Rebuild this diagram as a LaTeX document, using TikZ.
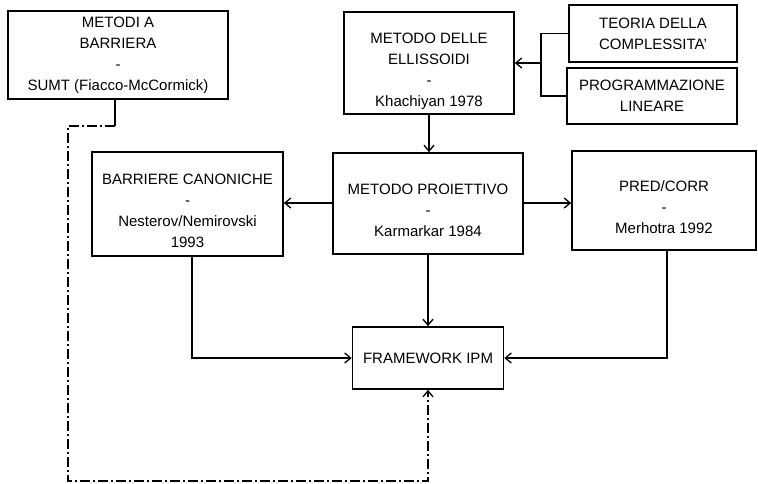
\documentclass[tikz,border=0pt]{standalone}
\usepackage{fontspec}
\setmainfont{Liberation Sans}
\usetikzlibrary{arrows.meta}
\newcommand{\lowered}[1]{\raisebox{-8pt}[\height][\depth]{\begin{tabular}{@{}c@{}}#1\end{tabular}}}
\begin{document}
\begin{tikzpicture}[x=1pt,y=-1pt,>={Straight Barb[length=6pt,width=10pt]},
	font=\fontsize{15}{21}\selectfont,
	box/.style={draw,line width=1.6pt,inner sep=0pt,align=center},
	link/.style={line width=1.3pt},
	dashdot/.style={link,dash pattern=on 10pt off 3pt on 2pt off 3pt}]
	\useasboundingbox (0,0) rectangle (758,483);
	\node[box,minimum width=220,minimum height=88] (mb) at (118,55) {METODI A\\BARRIERA\\-\\SUMT (Fiacco-McCormick)};
	\node[box,minimum width=170,minimum height=102] (ellis) at (429,63) {\lowered{METODO DELLE\\ELLISSOIDI\\-\\Khachiyan 1978}};
	\node[box,minimum width=168,minimum height=57] (teoria) at (653,33.5) {TEORIA DELLA\\COMPLESSITA'};
	\node[box,minimum width=170,minimum height=56] (prog) at (652,96) {PROGRAMMAZIONE\\LINEARE};
	\node[box,minimum width=191,minimum height=104] (barr) at (187.5,204) {\lowered{BARRIERE CANONICHE\\-\\Nesterov/Nemirovski\\1993}};
	\node[box,minimum width=190,minimum height=101] (proj) at (428,203.5) {\lowered{METODO PROIETTIVO\\-\\Karmarkar 1984}};
	\node[box,minimum width=184,minimum height=99] (pred) at (664,200.5) {\lowered{PRED/CORR\\-\\Merhotra 1992}};
	\node[box,minimum width=151,minimum height=62] (fw) at (428,358) {FRAMEWORK IPM};
	\coordinate (join) at (541,63);
	\draw[link] (teoria.west) -| (join);
	\draw[link] (prog.west) -| (join);
	\draw[link,->] (join) -- (ellis.east);
	\draw[link,->] (ellis.south) -- (ellis.south |- proj.north);
	\draw[link,->] (proj.west |- 0,203) -- (barr.east |- 0,203);
	\draw[link,->] (proj.east |- 0,203) -- (pred.west |- 0,203);
	\draw[link,->] (proj.south) -- (fw.north);
	\draw[link,->] ([xshift=4.5pt]barr.south) |- (fw.west);
	\draw[link,->] ([xshift=3pt]pred.south) |- (fw.east);
	\coordinate (bend) at (115,126);
	\coordinate (c1) at (68,126);
	\coordinate (c2) at (68,481);
	\draw[link] (mb.south -| bend) -- (bend);
	\draw[dashdot,->] (bend) -- (c1) -- (c2) -| (fw.south);
\end{tikzpicture}
\end{document}
